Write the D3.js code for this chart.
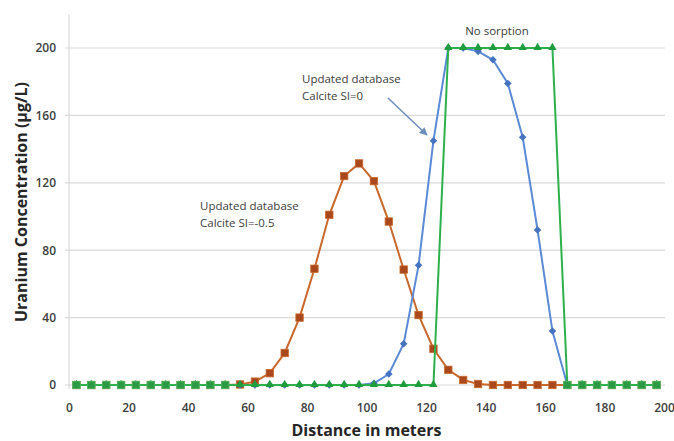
<!DOCTYPE html>
<html><head><meta charset="utf-8">
<script src="https://cdn.jsdelivr.net/npm/d3@7"></script>
<style>body{margin:0;background:#fff}svg{display:block}</style>
</head><body><svg id="c" width="674" height="441"></svg>
<script>
const distance = [2.5,7.5,12.5,17.5,22.5,27.5,32.5,37.5,42.5,47.5,52.5,57.5,62.5,67.5,72.5,77.5,82.5,87.5,92.5,97.5,102.5,107.5,112.5,117.5,122.5,127.5,132.5,137.5,142.5,147.5,152.5,157.5,162.5,167.5,172.5,177.5,182.5,187.5,192.5,197.5];
const calciteNeg05 = [0,0,0,0,0,0,0,0,0,0,0,0.3,2,7,19,40,69,101,124,131.5,121,97,68.5,41.5,21.5,9,3,0.6,0,0,0,0,0,0,0,0,0,0,0,0];
const calcite0 = [0,0,0,0,0,0,0,0,0,0,0,0,0,0,0,0,0,0,0,0,1,6.5,24.5,71,145,200,200,198,193,179,147,92,32,0,0,0,0,0,0,0];
const noSorption = [0,0,0,0,0,0,0,0,0,0,0,0,0,0,0,0,0,0,0,0,0,0,0,0,0,200,200,200,200,200,200,200,200,0,0,0,0,0,0,0];
const xTicks = [0,20,40,60,80,100,120,140,160,180,200];
const yTicks = [0,40,80,120,160,200];
const notes = [
  {lines:["No sorption"], x:497, y:35, anchor:"middle"},
  {lines:["Updated database","Calcite SI=0"], x:302, y:83, anchor:"start"},
  {lines:["Updated database","Calcite SI=-0.5"], x:200, y:210, anchor:"start"}
];

const svg = d3.select("#c");
const x = d3.scaleLinear().domain([0,200]).range([69,664]);
const y = d3.scaleLinear().domain([0,220]).range([385,14.3]);
const font = "'Open Sans', 'DejaVu Sans', sans-serif";

// gridlines
svg.append("g").selectAll("line").data(yTicks).join("line")
  .attr("x1", 65).attr("x2", x(200)+1)
  .attr("y1", d=>y(d)).attr("y2", d=>y(d))
  .attr("stroke", "#d9d9d9").attr("stroke-width", 1.2);
// y axis line
svg.append("line").attr("x1", x(0)).attr("x2", x(0)).attr("y1", y(220)).attr("y2", y(0)+4)
  .attr("stroke", "#d9d9d9").attr("stroke-width", 1.2);

// y axis labels
const yAxis = d3.axisLeft(y).tickValues(yTicks).tickSize(0).tickPadding(13);
const gy = svg.append("g").attr("transform", `translate(${x(0)},0)`).call(yAxis);
gy.select(".domain").remove();
gy.selectAll("text").attr("font-family", font).attr("font-size", 12).attr("font-weight", 600).attr("fill", "#404040");

const xAxis = d3.axisBottom(x).tickValues(xTicks).tickSize(0).tickPadding(18);
const gx = svg.append("g").attr("transform", `translate(0,${y(0)})`).call(xAxis);
gx.select(".domain").remove();
gx.selectAll("text").attr("font-family", font).attr("font-size", 12).attr("font-weight", 600).attr("fill", "#404040");

// axis titles
svg.append("text").attr("x", x(100)).attr("y", 436).attr("text-anchor", "middle")
  .attr("font-family", font).attr("font-size", 16).attr("font-weight", 700).attr("fill", "#262626")
  .text("Distance in meters");
svg.append("text").attr("transform", `translate(27,${(337+67)/2}) rotate(-90)`).attr("text-anchor", "middle")
  .attr("font-family", font).attr("font-size", 16).attr("font-weight", 700).attr("fill", "#262626")
  .text("Uranium Concentration (µg/L)");

const line = d3.line().x(d=>x(d[0])).y(d=>y(d[1]));
const pts = arr => distance.map((d,i)=>[d, arr[i]]);

// brown series
svg.append("path").datum(pts(calciteNeg05)).attr("d", line).attr("fill","none")
  .attr("stroke","#c9682c").attr("stroke-width",2);
svg.append("g").selectAll("rect").data(pts(calciteNeg05)).join("rect")
  .attr("x", d=>x(d[0])-3.7).attr("y", d=>y(d[1])-3.7).attr("width",7.4).attr("height",7.4)
  .attr("fill","#a9481d").attr("stroke","#c9682c").attr("stroke-width",0.8);

// blue series
svg.append("path").datum(pts(calcite0)).attr("d", line).attr("fill","none")
  .attr("stroke","#5b8ad6").attr("stroke-width",2);
svg.append("g").selectAll("path").data(pts(calcite0)).join("path")
  .attr("d", d3.symbol(d3.symbolDiamond2, 36))
  .attr("transform", d=>`translate(${x(d[0])},${y(d[1])})`)
  .attr("fill","#4672c2");

// green series
svg.append("path").datum(pts(noSorption)).attr("d", line).attr("fill","none")
  .attr("stroke","#2eb04c").attr("stroke-width",2);
svg.append("g").selectAll("path").data(pts(noSorption)).join("path")
  .attr("d", d3.symbol(d3.symbolTriangle, 30))
  .attr("transform", d=>`translate(${x(d[0])},${y(d[1])-0.5})`)
  .attr("fill","#1f9c3e");

// green square markers where all series rest at zero
const zeroPts = distance.map((d,i)=>({d, z: calciteNeg05[i]===0 && calcite0[i]===0 && noSorption[i]===0}))
  .filter(p=>p.z);
svg.append("g").selectAll("rect").data(zeroPts).join("rect")
  .attr("x", p=>x(p.d)-3.7).attr("y", y(0)-3.7).attr("width",7.4).attr("height",7.4)
  .attr("fill","#2c9a45").attr("stroke","#4cbb62").attr("stroke-width",0.8);

// annotations
notes.forEach(n=>{
  const t = svg.append("text").attr("x", n.x).attr("y", n.y).attr("text-anchor", n.anchor)
    .attr("font-family", font).attr("font-size", 11.5).attr("fill", "#404040");
  n.lines.forEach((l,i)=>t.append("tspan").attr("x", n.x).attr("dy", i===0?0:17).text(l));
});

// arrow
const defs = svg.append("defs");
defs.append("marker").attr("id","ah").attr("viewBox","0 0 10 10").attr("refX",9).attr("refY",5)
  .attr("markerWidth",5).attr("markerHeight",5).attr("orient","auto")
  .append("path").attr("d","M0,0 L10,5 L0,10 z").attr("fill","#6d8fbf");
svg.append("line").attr("x1",388).attr("y1",98).attr("x2",427).attr("y2",135)
  .attr("stroke","#6d8fbf").attr("stroke-width",1.6).attr("marker-end","url(#ah)");
</script></body></html>
